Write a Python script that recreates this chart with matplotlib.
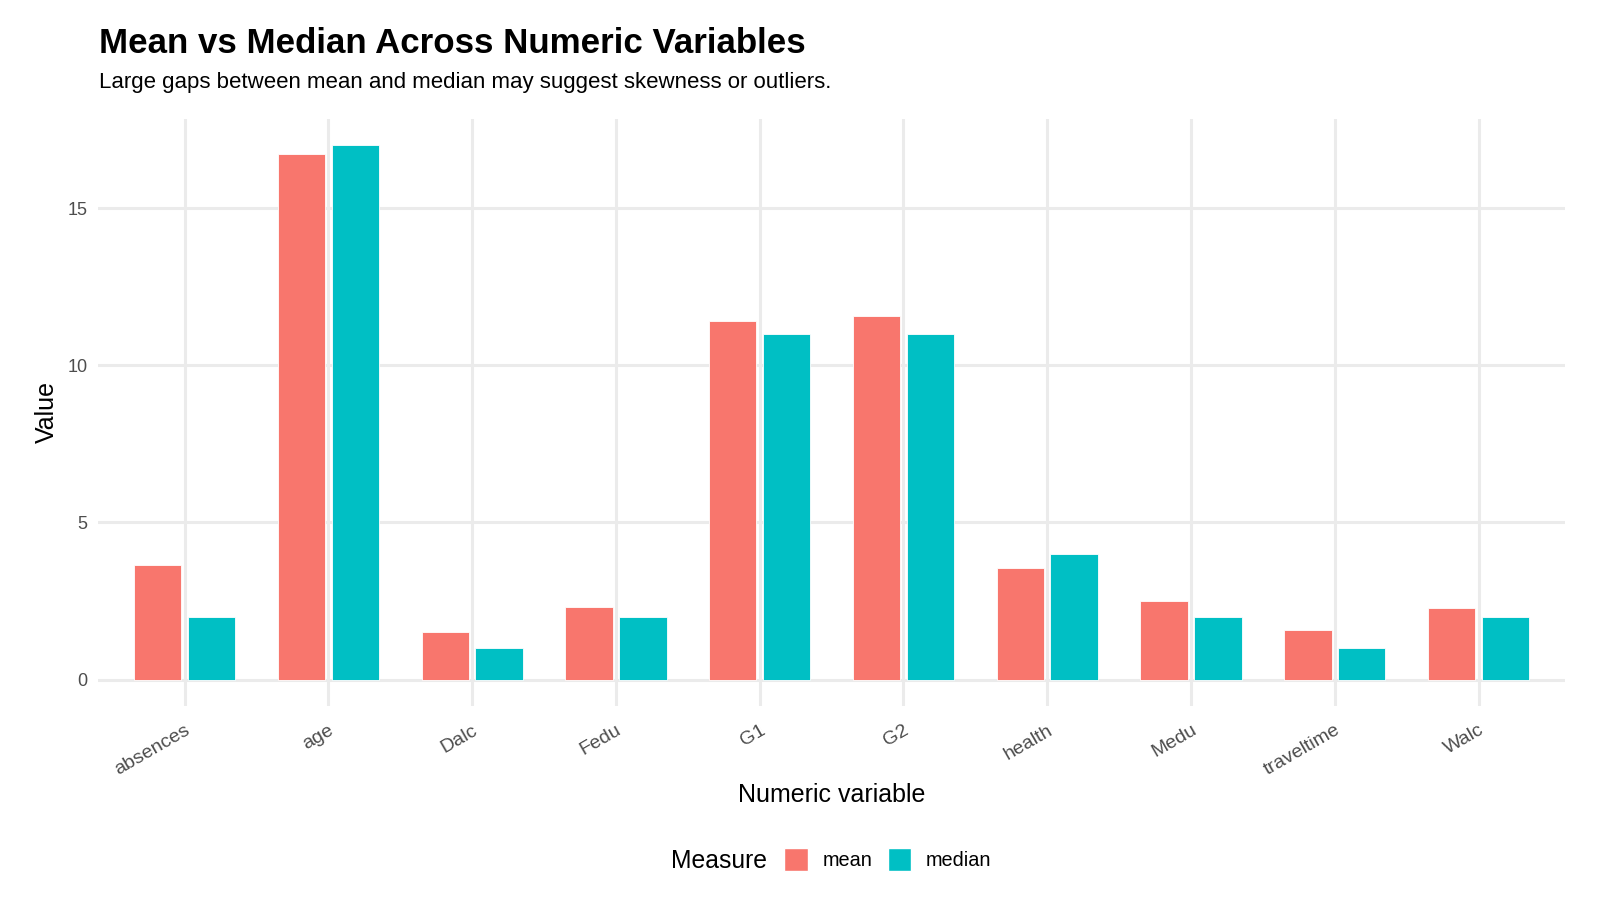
import matplotlib
matplotlib.use("Agg")
import matplotlib.pyplot as plt
import numpy as np
from matplotlib.patches import Patch

plt.rcParams["font.family"] = ["Liberation Sans", "DejaVu Sans"]

# Data
variables = ["absences", "age", "Dalc", "Fedu", "G1", "G2", "health", "Medu", "traveltime", "Walc"]
mean_vals = [3.66, 16.74, 1.50, 2.31, 11.40, 11.57, 3.54, 2.51, 1.57, 2.28]
median_vals = [2, 17, 1, 2, 11, 11, 4, 2, 1, 2]
measures = ["mean", "median"]
colours = ["#F8766D", "#00BFC4"]

fig = plt.figure(figsize=(16, 9.14), dpi=100)
ax = fig.add_axes([0.0615, 0.2272, 0.9165, 0.643])

x = np.arange(len(variables))
width = 0.33
offset = 0.1875
for vals, off, colour in zip([mean_vals, median_vals], [-offset, offset], colours):
    ax.bar(x + off, vals, width=width, color=colour, edgecolor="white",
           linewidth=0.6, zorder=3)

ax.set_xlim(-0.6, len(variables) - 0.4)
ax.set_ylim(-0.85, 17.85)
ax.set_yticks([0, 5, 10, 15])
ax.set_xticks(x)
ax.set_xticklabels(variables, rotation=30, ha="right", va="top",
                   rotation_mode="anchor", fontsize=14, color="#4D4D4D")
ax.tick_params(axis="y", labelsize=13, labelcolor="#4D4D4D", length=0, pad=8)
ax.tick_params(axis="x", length=0, pad=11)

ax.grid(True, color="#EBEBEB", linewidth=2.2, zorder=0)
ax.set_axisbelow(True)
for spine in ax.spines.values():
    spine.set_visible(False)

ax.set_xlabel("Numeric variable", fontsize=18, labelpad=3)
ax.set_ylabel("Value", fontsize=18, labelpad=6)

fig.text(0.062, 0.952, "Mean vs Median Across Numeric Variables",
         fontsize=25.1, fontweight="bold", va="center", ha="left")
fig.text(0.062, 0.910, "Large gaps between mean and median may suggest skewness or outliers.",
         fontsize=16, va="center", ha="left")

# legend: title to the left of the keys, like ggplot's bottom legend
fig.text(0.4195, 0.0585, "Measure", fontsize=17.8, va="center", ha="left")
handles = [Patch(facecolor=c, edgecolor="white", label=m) for m, c in zip(measures, colours)]
fig.legend(handles=handles, loc="center left", bbox_to_anchor=(0.49, 0.0598),
           ncol=2, frameon=False, fontsize=14.3, handlelength=1.19, handleheight=1.4,
           handletextpad=0.755, columnspacing=0.755, borderaxespad=0, borderpad=0)

fig.savefig("out.png", dpi=100)
